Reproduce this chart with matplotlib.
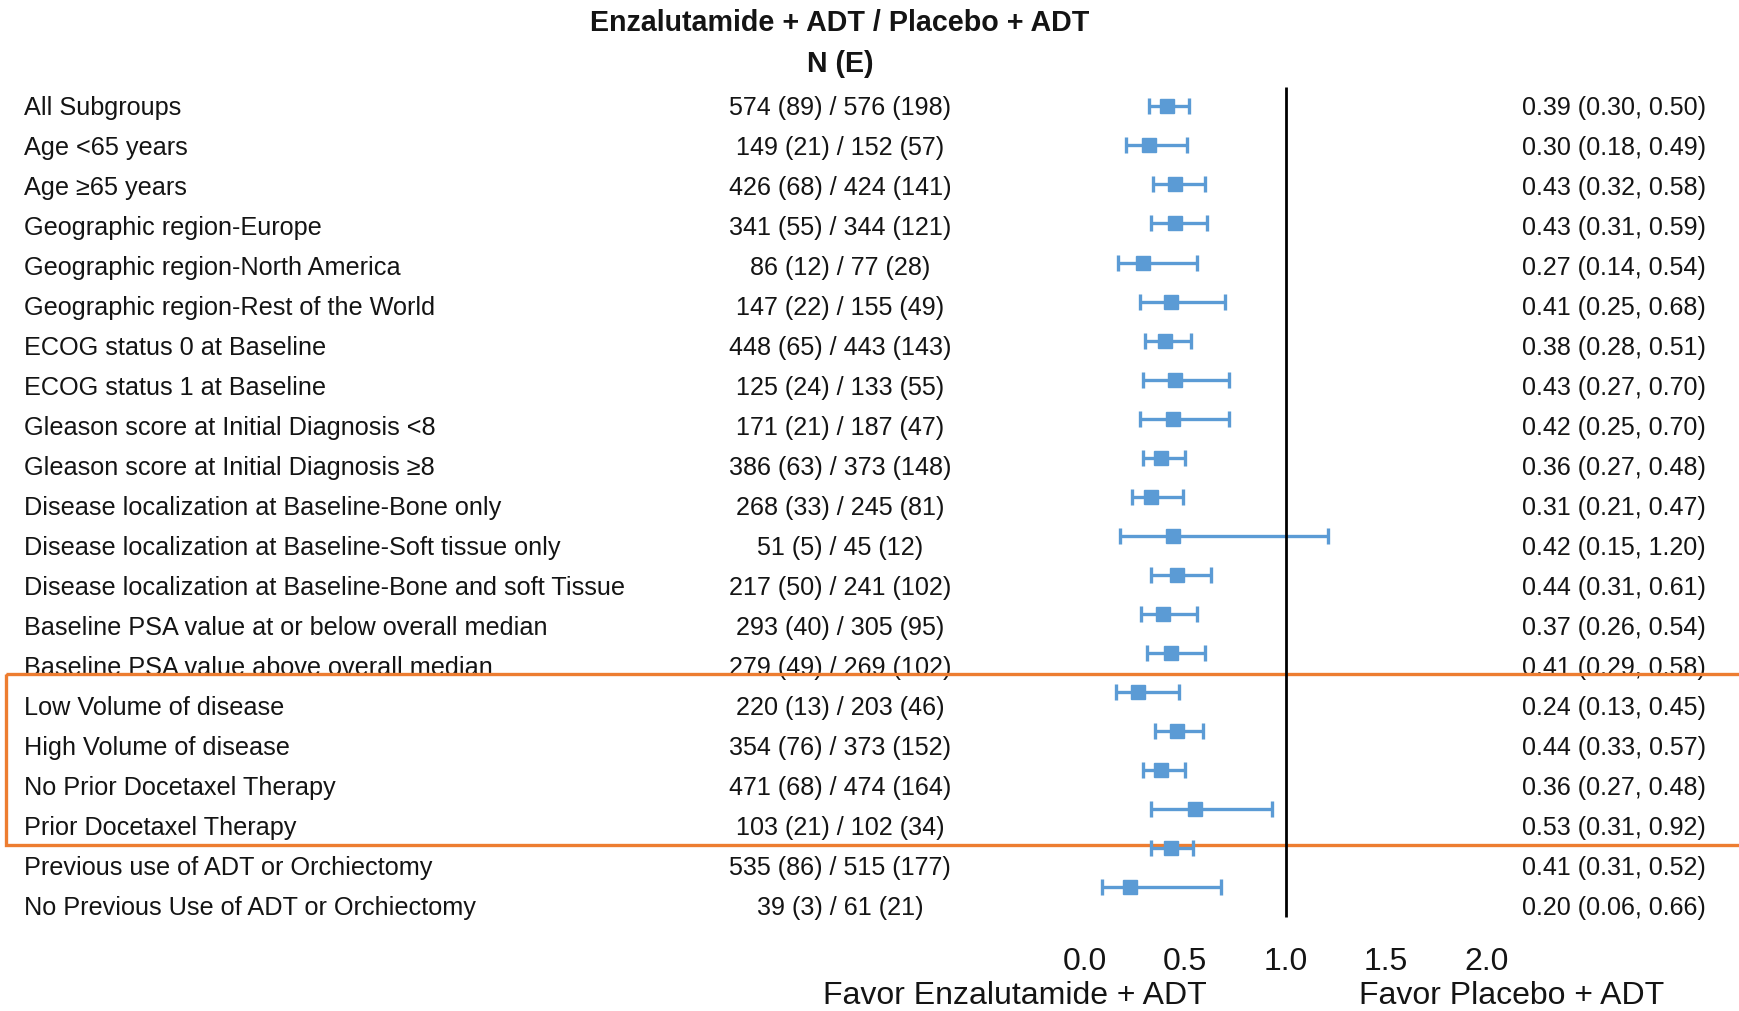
import matplotlib
matplotlib.use("Agg")
import matplotlib.pyplot as plt
import matplotlib.transforms as mtransforms
from matplotlib.patches import Rectangle

plt.rcParams['font.family'] = ['Liberation Sans', 'DejaVu Sans']

# ---------------- data ----------------
labels = [
    "All Subgroups",
    "Age <65 years",
    "Age \u226565 years",
    "Geographic region-Europe",
    "Geographic region-North America",
    "Geographic region-Rest of the World",
    "ECOG status 0 at Baseline",
    "ECOG status 1 at Baseline",
    "Gleason score at Initial Diagnosis <8",
    "Gleason score at Initial Diagnosis \u22658",
    "Disease localization at Baseline-Bone only",
    "Disease localization at Baseline-Soft tissue only",
    "Disease localization at Baseline-Bone and soft Tissue",
    "Baseline PSA value at or below overall median",
    "Baseline PSA value above overall median",
    "Low Volume of disease",
    "High Volume of disease",
    "No Prior Docetaxel Therapy",
    "Prior Docetaxel Therapy",
    "Previous use of ADT or Orchiectomy",
    "No Previous Use of ADT or Orchiectomy",
]
n_events = [
    "574 (89) / 576 (198)",
    "149 (21) / 152 (57)",
    "426 (68) / 424 (141)",
    "341 (55) / 344 (121)",
    "86 (12) / 77 (28)",
    "147 (22) / 155 (49)",
    "448 (65) / 443 (143)",
    "125 (24) / 133 (55)",
    "171 (21) / 187 (47)",
    "386 (63) / 373 (148)",
    "268 (33) / 245 (81)",
    "51 (5) / 45 (12)",
    "217 (50) / 241 (102)",
    "293 (40) / 305 (95)",
    "279 (49) / 269 (102)",
    "220 (13) / 203 (46)",
    "354 (76) / 373 (152)",
    "471 (68) / 474 (164)",
    "103 (21) / 102 (34)",
    "535 (86) / 515 (177)",
    "39 (3) / 61 (21)",
]
hr = [0.39, 0.30, 0.43, 0.43, 0.27, 0.41, 0.38, 0.43, 0.42, 0.36, 0.31,
      0.42, 0.44, 0.37, 0.41, 0.24, 0.44, 0.36, 0.53, 0.41, 0.20]
ci_low = [0.30, 0.18, 0.32, 0.31, 0.14, 0.25, 0.28, 0.27, 0.25, 0.27, 0.21,
          0.15, 0.31, 0.26, 0.29, 0.13, 0.33, 0.27, 0.31, 0.31, 0.06]
ci_high = [0.50, 0.49, 0.58, 0.59, 0.54, 0.68, 0.51, 0.70, 0.70, 0.48, 0.47,
           1.20, 0.61, 0.54, 0.58, 0.45, 0.57, 0.48, 0.92, 0.52, 0.66]
x_ticks = [0.0, 0.5, 1.0, 1.5, 2.0]
ref_line = 1.0
highlight_rows = (15, 18)   # boxed rows (first, last)

title1 = "Enzalutamide + ADT / Placebo + ADT"
title2 = "N (E)"
favor_left = "Favor Enzalutamide + ADT"
favor_right = "Favor Placebo + ADT"

# ---------------- figure ----------------
W, H = 1739, 1011
fig = plt.figure(figsize=(W / 100, H / 100), dpi=100)

n = len(labels)
rows = list(range(n))

# text axes: row i at pixel 106 + 40*i
ax_txt = fig.add_axes([0, 0, 1, 1])
ax_txt.set_xlim(0, 1)
ax_txt.set_ylim((H - 106) / 40.0, -106 / 40.0)
ax_txt.axis('off')

# plot axes: row i at pixel 106.3 + 39.05*i, x px = 1090 + 198*v
ax_plt = fig.add_axes([0, 0, 1, 1])
ax_plt.set_xlim(-1090 / 198.0, (W - 1090) / 198.0)
ax_plt.set_ylim((H - 106.3) / 39.05, -106.3 / 39.05)
ax_plt.axis('off')
ax_plt.patch.set_alpha(0)

# tick axes: x px = 1085 + 200.7*v (same rows as plot axes)
ax_tk = fig.add_axes([0, 0, 1, 1])
ax_tk.set_xlim(-1085 / 200.7, (W - 1085) / 200.7)
ax_tk.set_ylim((H - 106.3) / 39.05, -106.3 / 39.05)
ax_tk.axis('off')
ax_tk.patch.set_alpha(0)


def base_tr(ax, size):
    # shift so that the cap-height centre sits on the given y
    return mtransforms.offset_copy(ax.transData, fig=fig, x=0, y=-0.358 * size, units='points')


s_lab, s_n, s_hr = 18.2, 18.1, 18.0
tr_lab = base_tr(ax_txt, s_lab)
tr_n = base_tr(ax_txt, s_n)
tr_hr = base_tr(ax_txt, s_hr)
txt_col = '#141414'

for i in rows:
    ax_txt.text(24 / W, i, labels[i], fontsize=s_lab, ha='left', va='baseline',
                transform=tr_lab, color=txt_col)
    ax_txt.text(840 / W, i, n_events[i], fontsize=s_n, ha='center', va='baseline',
                transform=tr_n, color=txt_col)
    ax_txt.text(1706 / W, i, f"{hr[i]:.2f} ({ci_low[i]:.2f}, {ci_high[i]:.2f})",
                fontsize=s_hr, ha='right', va='baseline', transform=tr_hr, color=txt_col)

# headers
fig.text(840 / W, 1 - 20 / H, title1, fontsize=20.6, fontweight='bold',
         ha='center', va='center_baseline', color=txt_col)
fig.text(840 / W, 1 - 61 / H, title2, fontsize=20.6, fontweight='bold',
         ha='center', va='center_baseline', color=txt_col)

# forest plot
blue = '#5B9BD5'
xerr = [[h - l for h, l in zip(hr, ci_low)], [u - h for h, u in zip(hr, ci_high)]]
ax_plt.errorbar(hr, rows, xerr=xerr, fmt='s', color=blue, ecolor=blue,
                markersize=9.5, elinewidth=2.4, capsize=5.8, capthick=2.4, zorder=3)
ax_tk.vlines(ref_line, -0.5, n - 0.25, color='black', linewidth=2.0, zorder=2)

# x tick labels
tk_y = mtransforms.blended_transform_factory(ax_tk.transData, fig.transFigure)
for t in x_ticks:
    ax_tk.text(t, 1 - 959 / H, f"{t:.1f}", fontsize=23, ha='center',
               va='center_baseline', color=txt_col, transform=tk_y)

fig.text(1015 / W, 1 - 993 / H, favor_left, fontsize=23, ha='center',
         va='center_baseline', color=txt_col)
fig.text(1512 / W, 1 - 993 / H, favor_right, fontsize=23, ha='center',
         va='center_baseline', color=txt_col)

# orange highlight box
top = highlight_rows[0] - 0.8
bot = highlight_rows[1] + 0.48
ax_txt.add_patch(Rectangle((6 / W, top), 1.2, bot - top, fill=False,
                           edgecolor='#ED7D31', linewidth=2.4, zorder=5, clip_on=False))

fig.savefig("out.png", dpi=100)
